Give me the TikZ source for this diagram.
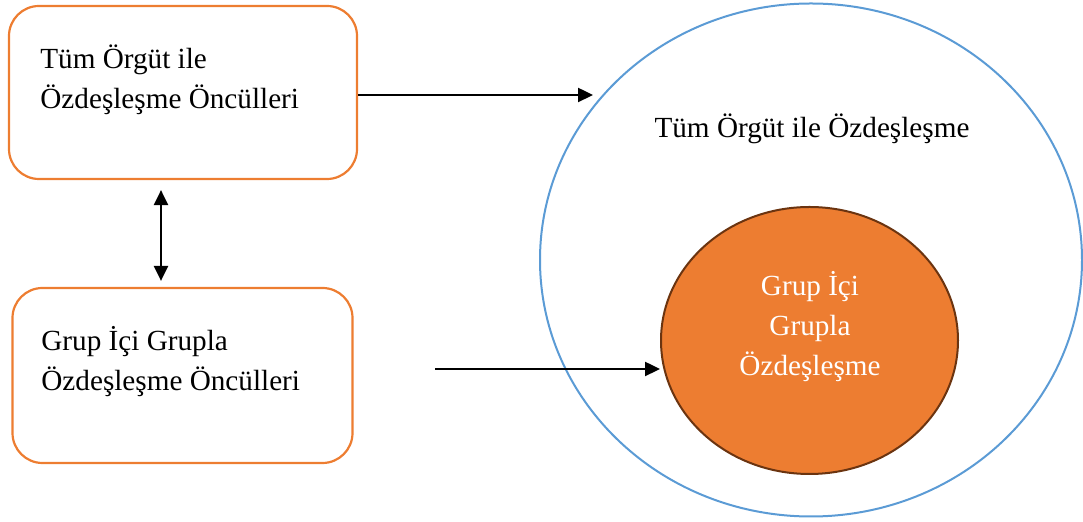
\documentclass[tikz,border=0pt]{standalone}
\usepackage{fontspec}
\setmainfont{Liberation Serif}
\usetikzlibrary{arrows.meta,shapes.geometric}
\definecolor{boxorange}{HTML}{ED7D31}
\definecolor{ringblue}{HTML}{5B9BD5}
\definecolor{corebrown}{HTML}{6B3410}

\begin{document}
\begin{tikzpicture}[x=0.5pt, y=-0.5pt, every node/.style={font=\fontsize{14.6}{20}\selectfont}, >={Triangle[length=7.5pt, width=7pt]},
	oncul/.style={draw=boxorange, line width=1.1pt, rounded corners=15pt, inner sep=0pt},
	etiket/.style={align=left, inner sep=0pt, anchor=west},
	ok/.style={->, line width=1.2pt}]
	\useasboundingbox (0,0) rectangle (1083,522);
	% left boxes
	\node[oncul, minimum width=174pt, minimum height=86.5pt] (tum) at (183,92.5) {};
	\node[oncul, minimum width=170pt, minimum height=87.5pt] (grup) at (182.5,375.5) {};
	\node[etiket] (tumyazi) at (40,80) {Tüm Örgüt ile\\Özdeşleşme Öncülleri};
	\node[etiket] (grupyazi) at (41,362) {Grup İçi Grupla\\Özdeşleşme Öncülleri};
	% circles
	\node[ellipse, draw=ringblue, line width=1pt, minimum width=271pt, minimum height=256.5pt, inner sep=0pt] (halka) at (811,260) {};
	\node[ellipse, draw=corebrown, fill=boxorange, line width=1pt, minimum width=148.5pt, minimum height=133.5pt, inner sep=0pt] (cekirdek) at (809.5,340.5) {};
	\node[anchor=base] (halkayazi) at (812,138) {Tüm Örgüt ile Özdeşleşme};
	\node[align=center, text=white, inner sep=0pt] (cekirdekyazi) at (810,327) {Grup İçi\\Grupla\\Özdeşleşme};
	% arrows
	\coordinate (ucA) at (593,95);
	\coordinate (ucB) at (435,369);
	\draw[ok] (tum.east |- ucA) -- (ucA);
	\draw[ok] (ucB) -- (ucB -| cekirdek.west);
	\draw[ok, <->, shorten <=5pt, shorten >=3pt] ([xshift=-11pt]tum.south) -- ([xshift=-11pt]tum.south |- grup.north);
\end{tikzpicture}
\end{document}
